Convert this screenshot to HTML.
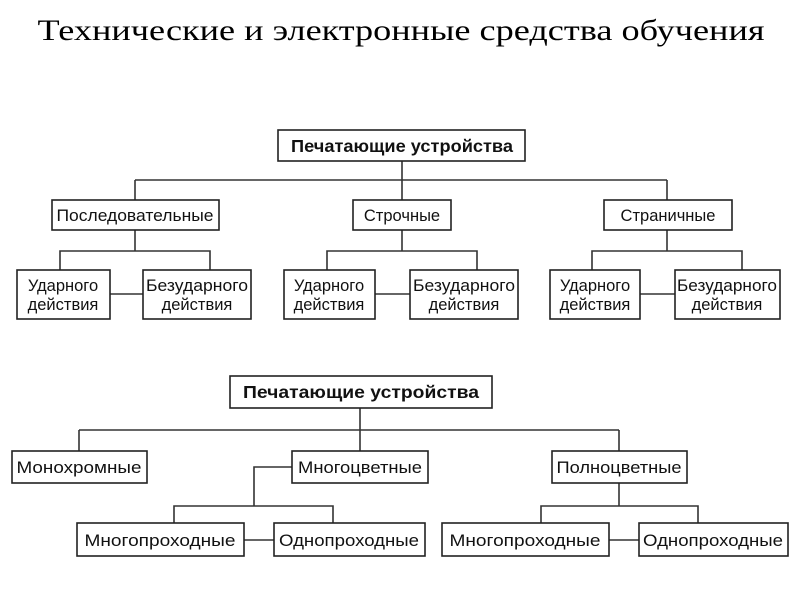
<!DOCTYPE html>
<html><head><meta charset="utf-8"><style>
html,body{margin:0;padding:0;background:#fff;}
svg{display:block}
text{font-family:"Liberation Sans",sans-serif;font-size:16.5px;fill:#111;text-anchor:middle}
.b{font-weight:bold;font-size:17.5px}
.t{font-family:"Liberation Serif",serif;font-size:30px;fill:#000}
rect{fill:#fff;stroke:#222;stroke-width:1.6}
line,path{stroke:#333;stroke-width:1.6;fill:none}
</style></head><body>
<svg width="800" height="600" viewBox="0 0 800 600">
<text class="t" x="401" y="40" textLength="727" lengthAdjust="spacingAndGlyphs">Технические и электронные средства обучения</text>

<line x1="402" y1="161" x2="402" y2="200"/>
<line x1="135" y1="180" x2="667" y2="180"/>
<line x1="135" y1="180" x2="135" y2="200"/>
<line x1="667" y1="180" x2="667" y2="200"/>
<line x1="135" y1="230" x2="135" y2="251"/>
<line x1="402" y1="230" x2="402" y2="251"/>
<line x1="667" y1="230" x2="667" y2="251"/>
<path d="M60 270 V251 H210 V270"/>
<path d="M327 270 V251 H477 V270"/>
<path d="M592 270 V251 H742 V270"/>
<line x1="110" y1="294" x2="143" y2="294"/>
<line x1="375" y1="294" x2="410" y2="294"/>
<line x1="640" y1="294" x2="675" y2="294"/>

<rect x="278" y="130" width="247" height="31"/>
<text class="b" x="402" y="152" textLength="222" lengthAdjust="spacingAndGlyphs">Печатающие устройства</text>
<rect x="52" y="200" width="167" height="30"/><text x="135" y="221" textLength="157" lengthAdjust="spacingAndGlyphs">Последовательные</text>
<rect x="353" y="200" width="98" height="30"/><text x="402" y="221">Строчные</text>
<rect x="604" y="200" width="128" height="30"/><text x="668" y="221">Страничные</text>

<rect x="17" y="270" width="93" height="49"/><text x="63" y="291">Ударного</text><text x="63" y="310">действия</text>
<rect x="143" y="270" width="108" height="49"/><text x="197" y="291" textLength="102" lengthAdjust="spacingAndGlyphs">Безударного</text><text x="197" y="310">действия</text>
<rect x="284" y="270" width="91" height="49"/><text x="329" y="291">Ударного</text><text x="329" y="310">действия</text>
<rect x="410" y="270" width="108" height="49"/><text x="464" y="291" textLength="102" lengthAdjust="spacingAndGlyphs">Безударного</text><text x="464" y="310">действия</text>
<rect x="550" y="270" width="90" height="49"/><text x="595" y="291">Ударного</text><text x="595" y="310">действия</text>
<rect x="675" y="270" width="105" height="49"/><text x="727" y="291" textLength="100" lengthAdjust="spacingAndGlyphs">Безударного</text><text x="727" y="310">действия</text>

<line x1="360" y1="408" x2="360" y2="451"/>
<line x1="79" y1="430" x2="619" y2="430"/>
<line x1="79" y1="430" x2="79" y2="451"/>
<line x1="619" y1="430" x2="619" y2="451"/>
<path d="M292 467 H254 V506"/>
<path d="M174 523 V506 H333 V523"/>
<line x1="619" y1="483" x2="619" y2="506"/>
<path d="M541 523 V506 H698 V523"/>
<line x1="244" y1="540" x2="274" y2="540"/>
<line x1="609" y1="540" x2="639" y2="540"/>

<rect x="230" y="376" width="262" height="32"/>
<text class="b" x="361" y="398" textLength="236" lengthAdjust="spacingAndGlyphs">Печатающие устройства</text>
<rect x="12" y="451" width="135" height="32"/><text x="79" y="473" textLength="125" lengthAdjust="spacingAndGlyphs">Монохромные</text>
<rect x="292" y="451" width="136" height="32"/><text x="360" y="473" textLength="124" lengthAdjust="spacingAndGlyphs">Многоцветные</text>
<rect x="552" y="451" width="135" height="32"/><text x="619" y="473" textLength="125" lengthAdjust="spacingAndGlyphs">Полноцветные</text>

<rect x="77" y="523" width="167" height="33"/><text x="160" y="546" textLength="151" lengthAdjust="spacingAndGlyphs">Многопроходные</text>
<rect x="274" y="523" width="151" height="33"/><text x="349" y="546" textLength="140" lengthAdjust="spacingAndGlyphs">Однопроходные</text>
<rect x="442" y="523" width="167" height="33"/><text x="525" y="546" textLength="151" lengthAdjust="spacingAndGlyphs">Многопроходные</text>
<rect x="639" y="523" width="149" height="33"/><text x="713" y="546" textLength="140" lengthAdjust="spacingAndGlyphs">Однопроходные</text>
</svg>
</body></html>
